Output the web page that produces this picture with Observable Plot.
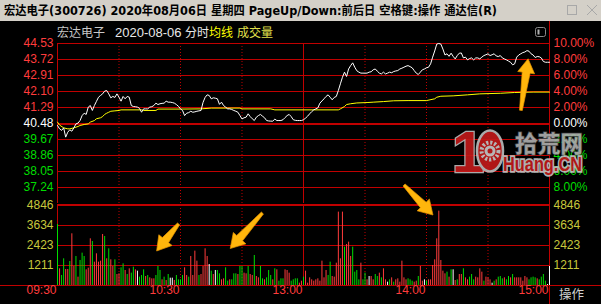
<!DOCTYPE html>
<html><head><meta charset="utf-8">
<script src="https://cdn.jsdelivr.net/npm/d3@7"></script>
<script src="https://cdn.jsdelivr.net/npm/@observablehq/plot@0.6"></script>
<style>
html,body{margin:0;padding:0;background:#000;width:601px;height:304px;overflow:hidden}
#root{position:relative;width:601px;height:304px;background:#000;overflow:hidden}
#root svg{position:absolute;left:0}
</style></head><body><div id="root"></div>
<script>
// ---------- data ----------
const prevClose = 40.48;
const highLimit = 44.53;
const lowLimit = 36.43;
const priceTicks = [44.53, 43.72, 42.91, 42.10, 41.29, 40.48, 39.67, 38.86, 38.05, 37.24];
const pctTicks = [10, 8, 6, 4, 2, 0, -2, -4, -6, -8];
const volMax = 4846;
const volTicks = [4846, 3634, 2423, 1211];
const timeTicks = [0, 60, 120, 180, 240];
const timeLabels = ["09:30", "10:30", "13:00", "14:00", "15:00"];
const dottedTimes = [30, 60, 90, 150, 180, 210];
const solidTimes = [0, 120, 240];

// one close price per minute, 0 = 09:30 ... 240 = 15:00
const price = [
40.38,40.21,40.13,40.26,39.79,40.04,40.16,40.09,40.26,40.46,
40.50,40.63,40.88,41.00,40.94,41.31,41.39,41.14,41.39,41.60,
41.81,41.90,41.98,42.12,42.15,41.98,41.78,41.85,41.80,41.98,
41.81,41.61,41.85,41.73,41.85,41.81,41.39,41.34,41.33,41.31,
41.25,41.05,41.22,41.22,41.22,41.31,41.33,41.39,41.51,41.44,
41.48,41.50,41.51,41.61,41.56,41.56,41.54,41.51,41.44,41.35,
41.22,41.14,40.88,41.00,41.03,41.10,41.05,41.07,41.10,41.12,
41.14,41.55,41.80,41.93,41.90,41.73,41.78,41.76,41.73,41.45,
41.56,41.39,41.31,41.22,41.22,41.19,41.14,41.10,41.05,40.88,
40.71,40.77,40.80,40.97,40.83,40.72,40.63,40.80,40.88,40.94,
40.85,40.77,40.63,40.61,40.60,40.60,40.70,40.63,40.63,40.63,
40.67,40.78,40.88,40.94,40.83,40.67,40.64,40.63,40.63,40.63,
40.67,40.75,40.85,40.97,41.08,41.17,41.22,41.27,41.51,41.62,
41.73,41.85,41.93,41.81,41.68,41.80,41.85,42.15,42.49,42.82,
43.08,42.86,43.24,43.41,43.55,43.33,43.15,43.08,43.03,43.03,
43.03,43.03,43.08,43.10,43.20,43.24,43.13,43.03,42.99,43.08,
42.99,43.03,43.08,43.05,43.11,43.14,43.16,43.24,43.28,43.33,
43.38,43.41,43.36,43.30,43.16,43.03,42.96,43.08,43.20,43.24,
43.30,43.33,43.50,43.84,44.15,44.50,44.53,44.50,44.25,43.95,
44.01,43.88,44.04,43.88,43.75,43.92,44.04,44.05,43.80,43.84,
43.70,43.77,43.80,43.70,43.80,43.80,43.75,43.84,43.92,43.96,
44.01,43.92,43.96,44.01,43.90,43.87,43.92,43.80,43.75,43.70,
43.64,43.58,43.45,43.50,43.84,43.95,44.01,44.07,44.10,44.17,
44.14,44.01,43.95,43.82,43.87,43.86,43.80,43.62,43.58,43.58,
43.58];

// average price line (read at its bends)
const avgMinutes = [0,1,3,5,6,8,10,11,13,15,16,18,19,21,22,23,24,25,26,28,30,31,41,42,48,49,60,70,75,89,90,104,106,137,138,140,141,143,146,151,154,159,164,171,180,184,185,187,193,200,206,216,223,232,240];
const avgValues = [40.55,40.40,40.26,40.21,40.21,40.26,40.33,40.38,40.43,40.46,40.55,40.63,40.72,40.77,40.83,40.94,41.00,41.05,41.10,41.12,41.14,41.17,41.17,41.14,41.14,41.21,41.21,41.22,41.26,41.26,41.22,41.22,41.17,41.17,41.22,41.34,41.44,41.48,41.52,41.54,41.56,41.59,41.63,41.64,41.64,41.73,41.81,41.86,41.88,41.93,41.98,42.01,42.05,42.07,42.07];

// volume per minute (hands)
const volume = [
3697,1010,606,1616,970,970,1454,3131,1151,1757,
505,1515,1959,1757,949,1050,2828,2666,1414,1919,
1414,1474,3090,2969,1616,2222,1555,1151,1555,666,
707,1070,1313,909,666,1010,747,1111,949,868,
505,606,949,545,606,464,404,404,606,1151,
909,343,505,303,666,444,444,303,606,343,
343,606,1070,606,505,1757,606,2081,1474,606,
666,1151,2222,1757,1272,868,666,909,909,707,
343,404,1070,262,343,343,707,707,666,1151,
1151,747,707,1151,666,606,1818,545,464,1151,
404,343,464,909,606,343,1010,949,262,404,
404,949,909,747,262,343,404,404,141,262,
505,868,141,464,343,262,343,404,262,1474,
464,909,606,1414,545,505,1353,4444,1616,4444,
2323,2484,2626,1757,2323,808,909,343,1353,343,
747,343,545,545,343,666,545,747,464,1010,
343,202,343,464,202,343,404,202,1474,464,
343,404,343,262,202,262,545,1151,262,343,
262,343,343,1212,1555,2828,4505,1515,868,707,
808,505,949,949,303,343,666,666,1010,464,
343,505,666,343,505,464,1010,808,262,505,
464,343,141,262,343,505,545,404,464,343,
545,464,666,464,464,464,464,262,545,464,
343,464,505,464,404,343,505,666,262,60,
1151];
// 1 = up (red), -1 = down (green), 0 = flat (white)
const volDir = [
-1,1,-1,-1,1,1,-1,1,1,-1,
1,-1,-1,-1,1,1,1,-1,1,1,
1,1,1,-1,1,-1,1,1,-1,1,
1,-1,-1,1,-1,1,-1,-1,1,0,
-1,-1,-1,1,-1,1,1,1,-1,-1,
-1,1,-1,1,-1,0,0,1,-1,-1,
-1,-1,1,1,-1,1,1,1,1,-1,
1,1,1,1,0,-1,1,0,-1,-1,
1,1,-1,-1,1,-1,-1,-1,1,-1,
-1,1,1,-1,1,1,-1,1,1,-1,
-1,1,-1,-1,-1,1,-1,1,-1,-1,
-1,1,1,1,-1,-1,-1,-1,1,1,
-1,1,1,1,1,1,1,1,1,1,
1,1,-1,-1,1,1,1,1,1,1,
-1,1,1,1,-1,-1,-1,-1,1,-1,
-1,1,0,1,1,-1,-1,1,-1,1,
1,0,-1,1,-1,1,1,1,1,1,
1,-1,-1,-1,1,1,-1,1,1,0,
-1,1,1,1,1,1,1,1,1,1,
-1,1,-1,0,1,-1,1,1,-1,1,
1,-1,-1,-1,1,1,1,1,-1,1,
1,1,0,-1,1,-1,-1,-1,1,-1,
-1,1,-1,1,1,1,1,1,1,1,
-1,-1,-1,-1,1,-1,-1,-1,-1,0,
0];

// annotation arrows [fromMinute, fromValue, toMinute, toValue]
const priceArrows = [[226.3, 41.12, 229.8, 43.73]];
const volumeArrows = [[59.3, 3700, 48.6, 2060], [100.2, 4360, 84.5, 2210], [169.3, 6060, 183.4, 4240]];

// ---------- style ----------
const GRID = "#c00000";
const RED = "#ff3c3c";
const GREEN = "#00dd00";
const VOLTXT = "#c8c83c";
const FONT = "'Liberation Sans', Arial, sans-serif";

const priceData = price.map((p, i) => ({t: i, p}));
const avgData = avgMinutes.map((t, i) => ({t, p: avgValues[i]}));
const volData = volume.map((v, i) => ({t: i, v, d: volDir[i]}));
const dirColor = d => d > 0 ? RED : d < 0 ? GREEN : "#ffffff";
const priceColor = p => p > prevClose + 1e-9 ? RED : p < prevClose - 1e-9 ? GREEN : "#ffffff";

function arrowMark(list) {
  return (index, scales) => {
    const g = d3.create("svg:g");
    for (const [m1, v1, m2, v2] of list) {
      const x1 = scales.x(m1), y1 = scales.y(v1), x2 = scales.x(m2), y2 = scales.y(v2);
      const dx = x2 - x1, dy = y2 - y1, L = Math.hypot(dx, dy);
      const ux = dx / L, uy = dy / L, nx = -uy, ny = ux;
      const h = 14, hw = 8.5, sw = 4, tw = 1.4;
      const bx = x2 - ux * h, by = y2 - uy * h;
      const pts = [[x1 + nx * tw, y1 + ny * tw], [bx + nx * sw, by + ny * sw], [bx + nx * hw, by + ny * hw], [x2, y2],
                   [bx - nx * hw, by - ny * hw], [bx - nx * sw, by - ny * sw], [x1 - nx * tw, y1 - ny * tw]];
      g.append("polygon").attr("points", pts.map(p => p.join(",")).join(" "))
        .attr("fill", "#ffb60c").attr("stroke", "#e89400").attr("stroke-width", 0.7).attr("stroke-linejoin", "round");
    }
    return g.node();
  };
}

const root = document.getElementById("root");

// ---------- chrome (under the plots) ----------
const chrome = d3.create("svg").attr("width", 601).attr("height", 304).style("top", "0px");
chrome.append("rect").attr("x", 0).attr("y", 0).attr("width", 601).attr("height", 21).attr("fill", "#d4d0c8");
chrome.append("text").attr("x", 4).attr("y", 15).attr("font-size", 12).attr("font-weight", "bold")
  .attr("font-family", "'DejaVu Sans','Noto Sans CJK SC',sans-serif").attr("fill", "#000")
  .attr("textLength", 493).attr("lengthAdjust", "spacingAndGlyphs")
  .text("宏达电子(300726) 2020年08月06日 星期四 PageUp/Down:前后日 空格键:操作 通达信(R)");
chrome.append("rect").attr("x", 567.5).attr("y", 5.5).attr("width", 9).attr("height", 9).attr("fill", "none").attr("stroke", "#a8a8a8");
chrome.append("path").attr("d", "M587,5 L597,15 M597,5 L587,15").attr("stroke", "#a8a8a8").attr("stroke-width", 1);
const hdr = [
  {x: 57, t: "宏达电子", c: "#c8c8c8", f: "'Noto Sans CJK SC',sans-serif", s: 12},
  {x: 115, t: "2020-08-06", c: "#e8e8e8", f: FONT, s: 13},
  {x: 185, t: "分时", c: "#e8e8e8", f: "'Noto Sans CJK SC',sans-serif", s: 12},
  {x: 209, t: "均线", c: "#ffff00", f: "'Noto Sans CJK SC',sans-serif", s: 12},
  {x: 237, t: "成交量", c: "#e0e04c", f: "'Noto Sans CJK SC',sans-serif", s: 12}
];
for (const h of hdr) chrome.append("text").attr("x", h.x).attr("y", 37).attr("font-size", h.s)
  .attr("font-family", h.f).attr("fill", h.c).text(h.t);
chrome.append("rect").attr("x", 535.5).attr("y", 27.5).attr("width", 10).attr("height", 9).attr("rx", 2).attr("fill", "none").attr("stroke", "#8a8a8a");
chrome.append("rect").attr("x", 537.5).attr("y", 29.5).attr("width", 2).attr("height", 5).attr("fill", "#b0b0b0");
chrome.append("rect").attr("x", 549).attr("y", 21).attr("width", 1).attr("height", 283).attr("fill", GRID);
chrome.append("rect").attr("x", 0).attr("y", 285).attr("width", 601).attr("height", 1).attr("fill", GRID);
chrome.append("text").attr("x", 559).attr("y", 299).attr("font-size", 12.5).attr("font-family", "'Noto Sans CJK SC',sans-serif")
  .attr("fill", "#d0d0d0").text("操作");
root.appendChild(chrome.node());

// ---------- price panel ----------
const pricePlot = Plot.plot({
  width: 601, height: 183,
  marginLeft: 57, marginRight: 52, marginTop: 21, marginBottom: 2,
  x: {domain: [0, 240], axis: null},
  y: {domain: [lowLimit, highLimit], axis: null},
  color: {type: "identity"},
  style: {background: "none", overflow: "visible", fontFamily: FONT, fontSize: "12px"},
  marks: [
    Plot.ruleY(priceTicks.filter(p => p !== prevClose), {stroke: GRID, strokeWidth: 1}),
    Plot.ruleX(dottedTimes, {stroke: GRID, strokeDasharray: "1,2"}),
    Plot.ruleX(solidTimes, {stroke: GRID}),
    Plot.ruleY([prevClose], {stroke: GRID, strokeWidth: 2, dy: 0.5}),
    Plot.line(avgData, {x: "t", y: "p", stroke: "#ffff00", strokeWidth: 1}),
    Plot.line(priceData, {x: "t", y: "p", stroke: "#ffffff", strokeWidth: 1}),
    Plot.text(priceTicks, {y: d => d, text: d => d.toFixed(2), frameAnchor: "left", dx: -4, textAnchor: "end",
      fill: d => priceColor(d), fontSize: 12}),
    Plot.text(pctTicks, {y: (d, i) => priceTicks[i], text: d => Math.abs(d).toFixed(2) + "%", frameAnchor: "right",
      dx: 4, textAnchor: "start", fill: d => d > 0 ? RED : d < 0 ? GREEN : "#ffffff", fontSize: 12}),
    arrowMark(priceArrows)
  ]
});
pricePlot.style.top = "22px";
root.appendChild(pricePlot);

// ---------- volume panel ----------
const volPlot = Plot.plot({
  width: 601, height: 124,
  marginLeft: 57, marginRight: 52, marginTop: 25, marginBottom: 19,
  x: {domain: [0, 240], axis: null},
  y: {domain: [0, volMax], axis: null},
  color: {type: "identity"},
  style: {background: "none", overflow: "visible", fontFamily: FONT, fontSize: "12px"},
  marks: [
    Plot.ruleY(volTicks.filter(v => v !== volMax), {stroke: GRID, strokeWidth: 1}),
    Plot.ruleX(dottedTimes, {stroke: GRID, strokeDasharray: "1,2"}),
    Plot.ruleX(solidTimes, {stroke: GRID}),
    Plot.ruleY([volMax], {stroke: GRID, strokeWidth: 2, dy: -0.5}),
    Plot.ruleX(volData, {x: "t", y1: 0, y2: "v", stroke: d => dirColor(d.d), strokeWidth: 1}),
    Plot.text(volTicks, {y: d => d, text: d => String(d), frameAnchor: "left", dx: -4, textAnchor: "end", fill: VOLTXT, fontSize: 12}),
    Plot.text(volTicks, {y: d => d, text: d => String(d), frameAnchor: "right", dx: 4, textAnchor: "start", fill: VOLTXT, fontSize: 12}),
    Plot.text(timeTicks, {x: d => d, text: (d, i) => timeLabels[i], frameAnchor: "bottom", dy: 8, dx: -1,
      textAnchor: "end", fill: RED, fontSize: 12}),
    arrowMark(volumeArrows)
  ]
});
volPlot.style.top = "180px";
root.appendChild(volPlot);

// ---------- watermark (on top) ----------
const wm = d3.create("svg").attr("width", 601).attr("height", 304).style("top", "0px").style("pointer-events", "none");
const g = wm.append("g").attr("opacity", 0.9);
g.append("text").attr("x", 452).attr("y", 172).attr("font-size", 58).attr("font-weight", "bold")
  .attr("font-family", FONT).attr("fill", "#c41a1a").attr("stroke", "#bdbdbd").attr("stroke-width", 2.5)
  .attr("paint-order", "stroke").text("1");
g.append("ellipse").attr("cx", 490).attr("cy", 151).attr("rx", 13).attr("ry", 20.5).attr("fill", "#c41a1a").attr("stroke", "#bdbdbd").attr("stroke-width", 2.5);
g.append("circle").attr("cx", 490).attr("cy", 151).attr("r", 8.5).attr("fill", "none").attr("stroke", "#c8c8c8").attr("stroke-width", 4).attr("stroke-dasharray", "2.2,1.8");
g.append("circle").attr("cx", 490).attr("cy", 151).attr("r", 5.5).attr("fill", "#c8c8c8");
g.append("circle").attr("cx", 490).attr("cy", 151).attr("r", 2.5).attr("fill", "#c41a1a");
g.append("text").attr("x", 515).attr("y", 152).attr("font-size", 23).attr("font-weight", "bold")
  .attr("font-family", "'Noto Sans CJK SC',sans-serif").attr("fill", "#b0b0b0").attr("stroke", "#4a4a4a").attr("stroke-width", 1.5)
  .attr("paint-order", "stroke").attr("textLength", 68).attr("lengthAdjust", "spacingAndGlyphs").text("拾荒网");
g.append("text").attr("x", 503).attr("y", 171).attr("font-size", 20).attr("font-weight", "bold")
  .attr("font-family", FONT).attr("fill", "#c41a1a").attr("stroke", "#c4c4c4").attr("stroke-width", 3.5)
  .attr("paint-order", "stroke").attr("textLength", 79).attr("lengthAdjust", "spacingAndGlyphs").text("Huang.CN");
root.appendChild(wm.node());
</script></body></html>
